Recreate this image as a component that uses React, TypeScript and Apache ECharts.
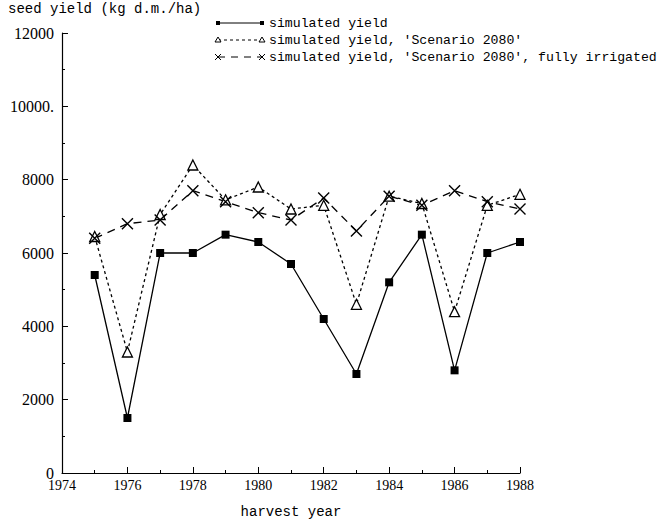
import React, { useEffect, useRef } from "react";
import * as echarts from "echarts";

const years = [1975, 1976, 1977, 1978, 1979, 1980, 1981, 1982, 1983, 1984, 1985, 1986, 1987, 1988];
const simulatedYield = [5400, 1500, 6000, 6000, 6500, 6300, 5700, 4200, 2700, 5200, 6500, 2800, 6000, 6300];
const scenario2080 = [6450, 3300, 7050, 8400, 7450, 7800, 7200, 7300, 4600, 7550, 7350, 4400, 7300, 7600];
const scenarioIrrigated = [6400, 6800, 6900, 7700, 7400, 7100, 6900, 7500, 6600, 7550, 7300, 7700, 7400, 7200];
const seriesNames = [
  "simulated yield",
  "simulated yield, 'Scenario 2080'",
  "simulated yield, 'Scenario 2080', fully irrigated",
];
const yTickLabels: Record<number, string> = {
  0: "0",
  2000: "2000",
  4000: "4000",
  6000: "6000",
  8000: "8000",
  10000: "10000.",
  12000: "12000",
};

const MONO = "'Liberation Mono', 'DejaVu Sans Mono', monospace";
const SERIF = "'Liberation Serif', 'DejaVu Serif', serif";
const CROSS = "path://M0,0L10,10M10,0L0,10";

export default function App() {
  const ref = useRef<HTMLDivElement>(null);
  useEffect(() => {
    document.body.style.margin = "0";
    if (!ref.current) return;
    const chart = echarts.init(ref.current, null, { renderer: "svg" });
    const pair = (vals: number[]) => years.map((y, i) => [y, vals[i]]);

    const legendRow = (i: number, top: number, dash: number[] | null, sym: string) => {
      const x0 = 218, x1 = 262;
      const children: any[] = [
        {
          type: "line",
          shape: { x1: x0, y1: top, x2: x1, y2: top },
          style: { stroke: "#000", lineWidth: 1, lineDash: dash || undefined },
        },
        {
          type: "text",
          x: 269,
          y: top,
          style: { text: seriesNames[i], font: `13.2px ${MONO}`, fill: "#000", verticalAlign: "middle" },
        },
      ];
      [x0, x1].forEach((cx) => {
        if (sym === "square") {
          children.push({ type: "rect", shape: { x: cx - 2, y: top - 2, width: 4, height: 4 }, style: { fill: "#000" } });
        } else if (sym === "triangle") {
          children.push({
            type: "polygon",
            shape: { points: [[cx, top - 3], [cx - 3, top + 2], [cx + 3, top + 2]] },
            style: { fill: "#fff", stroke: "#000", lineWidth: 1 },
          });
        } else {
          children.push({ type: "line", shape: { x1: cx - 3, y1: top - 3, x2: cx + 3, y2: top + 3 }, style: { stroke: "#000", lineWidth: 1 } });
          children.push({ type: "line", shape: { x1: cx - 3, y1: top + 3, x2: cx + 3, y2: top - 3 }, style: { stroke: "#000", lineWidth: 1 } });
        }
      });
      return { type: "group", children };
    };

    chart.setOption({
      animation: false,
      backgroundColor: "#fff",
      grid: { left: 62, right: 148, top: 33, bottom: 42, containLabel: false },
      xAxis: {
        type: "value",
        min: 1974,
        max: 1988,
        interval: 2,
        name: "harvest year",
        nameLocation: "middle",
        nameGap: 32,
        nameTextStyle: { fontFamily: MONO, fontSize: 14, color: "#000" },
        axisLine: { lineStyle: { color: "#000", width: 1.2 } },
        axisTick: { inside: true, length: 6, lineStyle: { color: "#000" } },
        minorTick: { show: true, splitNumber: 2, length: 3, lineStyle: { color: "#000" } },
        splitLine: { show: false },
        axisLabel: {
          fontFamily: SERIF,
          fontSize: 14,
          color: "#000",
          margin: 5,
          formatter: (v: number) => String(v),
        },
      },
      yAxis: {
        type: "value",
        min: 0,
        max: 12000,
        interval: 2000,
        axisLine: { show: true, lineStyle: { color: "#000", width: 1.2 } },
        axisTick: { show: true, inside: true, length: 6, lineStyle: { color: "#000" } },
        minorTick: { show: true, splitNumber: 2, length: 3, lineStyle: { color: "#000" } },
        splitLine: { show: false },
        axisLabel: {
          fontFamily: SERIF,
          fontSize: 16,
          color: "#000",
          margin: 8,
          formatter: (v: number) => yTickLabels[v] ?? String(v),
        },
      },
      graphic: [
        {
          type: "text",
          left: 8,
          top: 2,
          style: { text: "seed yield (kg d.m./ha)", font: `14px ${MONO}`, fill: "#000" },
        },
        legendRow(0, 23, null, "square"),
        legendRow(1, 40, [3, 3], "triangle"),
        legendRow(2, 57, [7, 6], "cross"),
      ],
      series: [
        {
          name: seriesNames[0],
          type: "line",
          data: pair(simulatedYield),
          symbol: "rect",
          symbolSize: 8,
          lineStyle: { color: "#000", width: 1.3 },
          itemStyle: { color: "#000" },
          z: 3,
        },
        {
          name: seriesNames[1],
          type: "line",
          data: pair(scenario2080),
          symbol: "triangle",
          symbolSize: 10,
          lineStyle: { color: "#000", width: 1.3, type: [3, 3] },
          itemStyle: { color: "#fff", borderColor: "#000", borderWidth: 1.3 },
          z: 2,
        },
        {
          name: seriesNames[2],
          type: "line",
          data: pair(scenarioIrrigated),
          symbol: CROSS,
          symbolSize: 11,
          lineStyle: { color: "#000", width: 1.3, type: [8, 6] },
          itemStyle: { color: "none", borderColor: "#000", borderWidth: 1.4 },
          z: 2,
        },
      ],
    });
    return () => chart.dispose();
  }, []);
  return <div ref={ref} style={{ width: 668, height: 524 }} />;
}
